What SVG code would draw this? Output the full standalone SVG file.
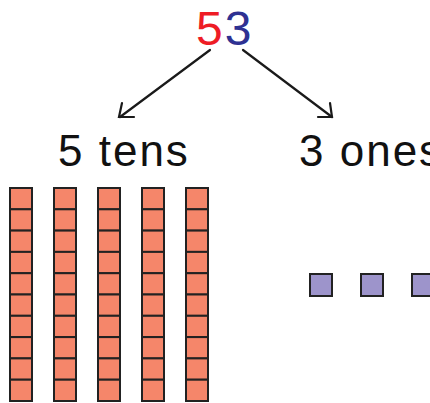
<svg xmlns="http://www.w3.org/2000/svg" width="430" height="403" viewBox="0 0 430 403">
<defs>
<style>
.t{font-family:"Liberation Sans","DejaVu Sans",sans-serif;fill:#111;font-size:44px}
.ten{fill:#f5866a;stroke:#222;stroke-width:2}
.one{fill:#9d94cb;stroke:#222;stroke-width:2}
.c{stroke:#1a1a1a;stroke-width:2.2;fill:none;stroke-linecap:round}
</style>
<pattern id="rod" x="0" y="188" width="22" height="21.3" patternUnits="userSpaceOnUse">
<rect x="0" y="0" width="22" height="21.3" fill="#f5866a"/>
</pattern>
<g id="rodshape">
<rect class="ten" x="0" y="0" width="22" height="21.3"/>
<rect class="ten" x="0" y="21.3" width="22" height="21.3"/>
<rect class="ten" x="0" y="42.6" width="22" height="21.3"/>
<rect class="ten" x="0" y="63.9" width="22" height="21.3"/>
<rect class="ten" x="0" y="85.2" width="22" height="21.3"/>
<rect class="ten" x="0" y="106.5" width="22" height="21.3"/>
<rect class="ten" x="0" y="127.8" width="22" height="21.3"/>
<rect class="ten" x="0" y="149.1" width="22" height="21.3"/>
<rect class="ten" x="0" y="170.4" width="22" height="21.3"/>
<rect class="ten" x="0" y="191.7" width="22" height="21.3"/>
</g>
</defs>
<rect width="430" height="403" fill="#fff"/>
<g id="number">
<text x="196" y="45" style="font-family:'Liberation Sans','DejaVu Sans',sans-serif;font-size:48px"><tspan fill="#ee1c25">5</tspan><tspan fill="#2e3192" dx="2">3</tspan></text>
</g>
<g id="connectors">
<path class="c" d="M210,50 L120,117"/>
<path class="c" d="M122,103 L119,117 L134,117"/>
<path class="c" d="M243,50 L332,117"/>
<path class="c" d="M318,117 L332,117 L330,103"/>
</g>
<g id="tens-label"><text class="t" x="58" y="166" letter-spacing="2">5 tens</text></g>
<g id="ones-label"><text class="t" x="299" y="166" letter-spacing="2">3 ones</text></g>
<g id="tens">
<use href="#rodshape" x="10" y="188"/>
<use href="#rodshape" x="54" y="188"/>
<use href="#rodshape" x="98" y="188"/>
<use href="#rodshape" x="142" y="188"/>
<use href="#rodshape" x="186" y="188"/>
</g>
<g id="ones">
<rect class="one" x="310" y="274" width="22" height="22"/>
<rect class="one" x="361" y="274" width="22" height="22"/>
<rect class="one" x="412" y="274" width="22" height="22"/>
</g>
</svg>
